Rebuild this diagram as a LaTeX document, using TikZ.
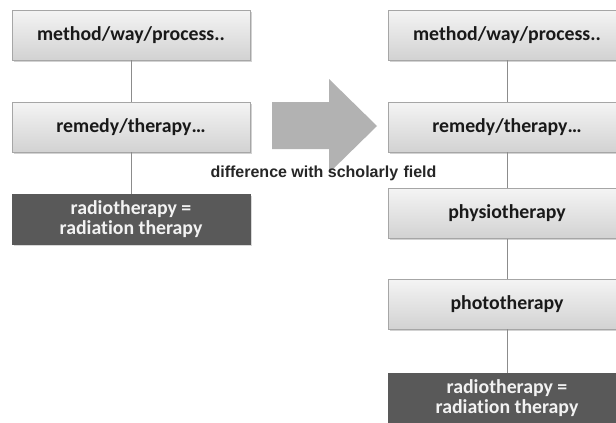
\documentclass[tikz,border=0pt]{standalone}
\usepackage{fontspec}
\setmainfont{Liberation Sans}
\newfontfamily\boxfont[Ligatures=NoCommon]{Carlito}
\usetikzlibrary{shadows}
\definecolor{boxedge}{HTML}{A6A6A6}
\definecolor{boxtop}{HTML}{F4F4F4}
\definecolor{boxbottom}{HTML}{D2D2D2}
\definecolor{darkfill}{HTML}{595959}
\definecolor{linkgray}{HTML}{8C8C8C}
\definecolor{arrowgray}{HTML}{B2B2B2}
\tikzset{
  lightbox/.style={draw=boxedge, line width=0.8pt, top color=boxtop, bottom color=boxbottom,
    minimum width=238pt, minimum height=50pt, inner sep=0pt,
    font=\boxfont\bfseries\fontsize{19.8}{20}\selectfont, text=black!90,
    drop shadow={shadow xshift=1.5pt, shadow yshift=-1.5pt, opacity=0.35}},
  darkbox/.style={fill=darkfill, draw=darkfill, line width=0.8pt,
    minimum width=238pt, minimum height=50pt, inner sep=0pt, align=center,
    font=\boxfont\bfseries\fontsize{19.8}{20.5}\selectfont, text=white!95!black,
    drop shadow={shadow xshift=1.5pt, shadow yshift=-1.5pt, opacity=0.3}},
  link/.style={draw=linkgray, line width=0.8pt},
  bigarrow/.style={fill=arrowgray, draw=none},
  note/.style={font=\bfseries\fontsize{16}{18}\selectfont, text=black!85}
}
\begin{document}
\begin{tikzpicture}[x=1pt, y=-1pt]
  \useasboundingbox (0,0) rectangle (616,423);
  \clip (0,0) rectangle (616,423);
  \fill[white] (0,0) rectangle (616,423);

  % left column
  \node[lightbox] (l1) at (131,35) {method/way/process..};
  \node[lightbox] (l2) at (131,127) {remedy/therapy…};
  \node[darkbox]  (l3) at (131,219) {radiotherapy =\\radiation therapy};
  \draw[link] (l1.south) -- (l2.north);
  \draw[link] (l2.south) -- (l3.north);

  % right column
  \node[lightbox] (r1) at (507,35) {method/way/process..};
  \node[lightbox] (r2) at (507,127) {remedy/therapy…};
  \node[lightbox] (r3) at (507,213.5) {physiotherapy};
  \node[lightbox] (r4) at (507,304) {phototherapy};
  \node[darkbox]  (r5) at (507,398) {radiotherapy =\\radiation therapy};
  \draw[link] (r1.south) -- (r2.north);
  \draw[link] (r2.south) -- (r3.north);
  \draw[link] (r3.south) -- (r4.north);
  \draw[link] (r4.south) -- (r5.north);

  % block arrow between the columns
  \path[bigarrow] (272,102) -- (329,102) -- (329,79) -- (377,126)
    -- (329,173) -- (329,149) -- (272,149) -- cycle;
  \node[note] (lbl) at (323.5,173) {difference with scholarly\,\,field};
\end{tikzpicture}
\end{document}
